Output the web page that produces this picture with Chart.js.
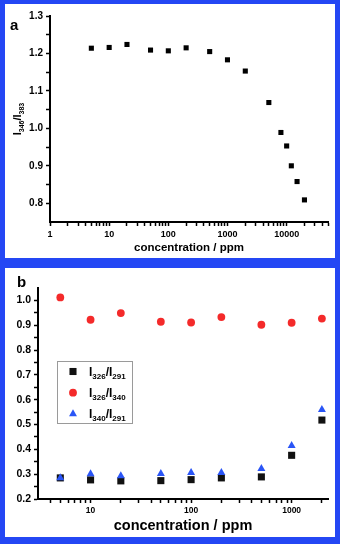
<!DOCTYPE html>
<html>
<head>
<meta charset="utf-8">
<script src="https://cdn.jsdelivr.net/npm/chart.js@4/dist/chart.umd.min.js"></script>
<style>
  body { margin: 0; background: #fff; }
  #frame { position: absolute; left: 0; top: 0; width: 340px; height: 544px; background: #2447f4; }
  .panel { position: absolute; left: 5px; width: 330px; background: #fff; }
  .panel canvas { position: absolute; left: 0; top: 0; }
  .tag { position: absolute; font: bold 15px 'Liberation Sans', Arial, sans-serif; line-height: 15px; color: #000; }
</style>
</head>
<body>
<div id="frame">
  <div class="panel" style="top:4px;height:254px">
    <canvas id="chartA" width="330" height="254"></canvas>
    <span class="tag" style="left:5px;top:13px">a</span>
  </div>
  <div class="panel" style="top:268px;height:269px">
    <canvas id="chartB" width="330" height="269"></canvas>
    <span class="tag" style="left:12px;top:6px">b</span>
  </div>
</div>
<script>
const FONT = "'Liberation Sans', Arial, sans-serif";

// panel a
const concA = [5, 10, 20, 50, 100, 200, 500, 1000, 2000, 5000, 8000, 10000, 12000, 15000, 20000];
const ratioA = [1.214, 1.216, 1.224, 1.209, 1.207, 1.215, 1.205, 1.183, 1.153, 1.069, 0.989, 0.953, 0.900, 0.858, 0.809];
const yTitleA = 'I346/I383';
const xTicksA = [1, 10, 100, 1000, 10000];
const yTicksA = [0.8, 0.9, 1.0, 1.1, 1.2, 1.3];

// panel b
const concB = [5, 10, 20, 50, 100, 200, 500, 1000, 2000];
const seriesNamesB = ['I326/I291', 'I326/I340', 'I340/I291'];
const ratio326291 = [0.285, 0.277, 0.273, 0.274, 0.278, 0.285, 0.289, 0.376, 0.518];
const ratio326340 = [1.012, 0.922, 0.949, 0.914, 0.911, 0.933, 0.902, 0.910, 0.927];
const ratio340291 = [0.285, 0.301, 0.293, 0.302, 0.306, 0.306, 0.322, 0.415, 0.560];
const xTicksB = [10, 100, 1000];
const yTicksB = [0.2, 0.3, 0.4, 0.5, 0.6, 0.7, 0.8, 0.9, 1.0];

const xTitle = 'concentration / ppm';

// 1..9 x 10^n tick marks between from and to
function logTicks(from, to) {
  const out = [];
  for (let p = 1; p <= to; p *= 10) {
    for (let d = 1; d <= 9; d += 1) {
      const v = d * p;
      if (v >= from && v <= to) out.push({ value: v });
    }
  }
  return out;
}

// labelled ticks plus a half step tick in between
function linTicks(labels) {
  const out = [];
  labels.forEach((v, i) => {
    out.push({ value: v });
    if (i < labels.length - 1) out.push({ value: Math.round((v + 0.05) * 100) / 100 });
  });
  return out;
}

// draw 'I326/I291' style text with digit runs as subscripts
function drawSubText(ctx, label, x, y, size, rotated) {
  const parts = label.split(/(\d+)/);
  const small = Math.round(size * 0.66);
  ctx.save();
  ctx.translate(x, y);
  if (rotated) ctx.rotate(-Math.PI / 2);
  ctx.fillStyle = '#000';
  ctx.textBaseline = 'alphabetic';
  let total = 0;
  parts.forEach((p, i) => {
    ctx.font = `bold ${i % 2 ? small : size}px ${FONT}`;
    total += ctx.measureText(p).width;
  });
  let cx = rotated ? -total / 2 : 0;
  const base = size * 0.36;
  parts.forEach((p, i) => {
    ctx.font = `bold ${i % 2 ? small : size}px ${FONT}`;
    ctx.fillText(p, cx, i % 2 ? base + size * 0.25 : base);
    cx += ctx.measureText(p).width;
  });
  ctx.restore();
}

function makeAxis(fontSize, tickFn, labels, fmt, fit) {
  return {
    border: { color: '#000', width: 2 },
    grid: { drawOnChartArea: false, color: '#000', tickLength: 4, tickWidth: 1.5 },
    ticks: {
      color: '#000',
      font: { family: FONT, size: fontSize, weight: 'bold' },
      padding: 3,
      autoSkip: false,
      maxRotation: 0,
      callback: (value) => (labels.some((l) => Math.abs(l - value) < 1e-6) ? fmt(value) : ''),
    },
    afterBuildTicks: (axis) => { axis.ticks = tickFn(); },
    afterFit: fit,
  };
}

const yTitlePlugin = {
  id: 'yTitleA',
  afterDraw(chart) {
    const { top, bottom } = chart.chartArea;
    drawSubText(chart.ctx, yTitleA, 12, (top + bottom) / 2, 11, true);
  },
};

const legendPlugin = {
  id: 'legendB',
  afterDraw(chart) {
    const { ctx } = chart;
    ctx.save();
    ctx.strokeStyle = '#9a9a9a';
    ctx.lineWidth = 1;
    ctx.strokeRect(52.5, 93.5, 75, 62);
    chart.data.datasets.forEach((ds, i) => {
      const y = 103.5 + i * 21.2;
      ctx.fillStyle = ds.backgroundColor;
      Chart.helpers.drawPoint(ctx, { pointStyle: ds.pointStyle, radius: ds.pointRadius, borderWidth: 0, rotation: 0 }, 68, y);
      drawSubText(ctx, seriesNamesB[i], 84, y, 12, false);
    });
    ctx.restore();
  },
};

function xy(xs, ys) {
  return xs.map((x, i) => ({ x, y: ys[i] }));
}

const titleFont = (size) => ({ family: FONT, size, weight: 'bold' });

new Chart(document.getElementById('chartA'), {
  type: 'scatter',
  data: {
    datasets: [{
      data: xy(concA, ratioA),
      pointStyle: 'rect',
      pointRadius: 3.6,
      backgroundColor: '#000',
      borderWidth: 0,
    }],
  },
  options: {
    responsive: false,
    animation: false,
    events: [],
    layout: { padding: { left: 0, top: 12, right: 7, bottom: 0 } },
    plugins: { legend: { display: false }, tooltip: { enabled: false } },
    scales: {
      x: {
        type: 'logarithmic',
        min: 1,
        max: 50000,
        ...makeAxis(9, () => logTicks(1, 50000), xTicksA, (v) => String(v), (s) => { s.height = 36; }),
        title: { display: true, text: xTitle, color: '#000', font: titleFont(11.5), padding: { top: 0, bottom: 3 } },
      },
      y: {
        type: 'linear',
        min: 0.75,
        max: 1.3,
        ...makeAxis(10, () => linTicks(yTicksA), yTicksA, (v) => v.toFixed(1), (s) => { s.width = 45; }),
      },
    },
  },
  plugins: [yTitlePlugin],
});

new Chart(document.getElementById('chartB'), {
  type: 'scatter',
  data: {
    datasets: [
      { data: xy(concB, ratio326291), pointStyle: 'rect', pointRadius: 5, backgroundColor: '#111', borderWidth: 0, order: 3 },
      { data: xy(concB, ratio326340), pointStyle: 'circle', pointRadius: 3.9, backgroundColor: '#f42a2a', borderWidth: 0, order: 2 },
      { data: xy(concB, ratio340291), pointStyle: 'triangle', pointRadius: 4.6, backgroundColor: '#2a55f6', borderWidth: 0, order: 1 },
    ],
  },
  options: {
    responsive: false,
    animation: false,
    events: [],
    layout: { padding: { left: 0, top: 20, right: 7, bottom: 0 } },
    plugins: { legend: { display: false }, tooltip: { enabled: false } },
    scales: {
      x: {
        type: 'logarithmic',
        min: 3,
        max: 2300,
        ...makeAxis(8.5, () => logTicks(4, 2300), xTicksB, (v) => String(v), (s) => { s.height = 38; }),
        title: { display: true, text: xTitle, color: '#000', font: titleFont(14.5), padding: { top: 0, bottom: 2 } },
      },
      y: {
        type: 'linear',
        min: 0.2,
        max: 1.05,
        ...makeAxis(10.5, () => linTicks(yTicksB), yTicksB, (v) => v.toFixed(1), (s) => { s.width = 33; }),
      },
    },
  },
  plugins: [legendPlugin],
});
</script>
</body>
</html>
